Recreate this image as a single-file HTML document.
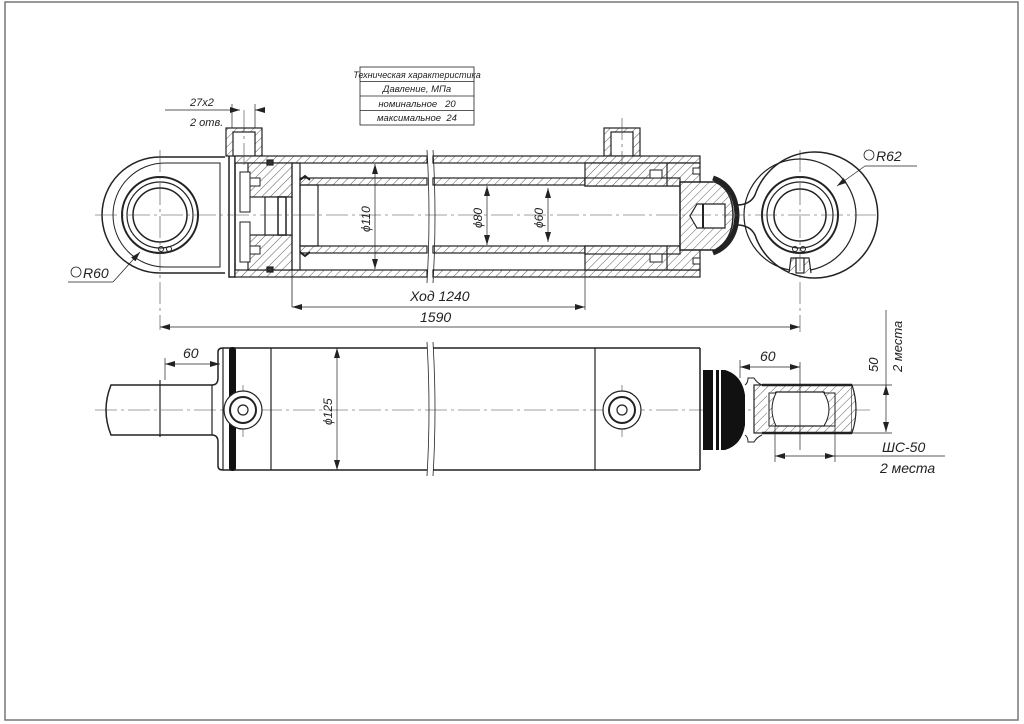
<!DOCTYPE html>
<html><head><meta charset="utf-8"><style>
html,body{margin:0;padding:0;background:#fff}
svg{display:block}
text{font-family:"Liberation Sans","DejaVu Sans",sans-serif;font-style:italic;fill:#222}
</style></head><body>
<svg width="1024" height="724" viewBox="0 0 1024 724" xmlns="http://www.w3.org/2000/svg">
<defs>
<pattern id="h" width="6" height="6" patternUnits="userSpaceOnUse" patternTransform="rotate(45)">
<rect width="6" height="6" fill="#fff"/><line x1="0" y1="0" x2="0" y2="6" stroke="#333" stroke-width="0.8"/>
</pattern>
<marker id="a" viewBox="0 0 10 6" refX="10" refY="3" markerWidth="10" markerHeight="6" orient="auto-start-reverse" markerUnits="userSpaceOnUse"><path d="M0,0L10,3L0,6z" fill="#222"/></marker>
</defs>
<rect x="5" y="2" width="1013" height="718" fill="none" stroke="#777" stroke-width="1.5"/>

<g stroke="#222" fill="none" stroke-width="1.2">
<!-- table -->
<rect x="360" y="67" width="114" height="58" stroke-width="0.8"/>
<line x1="360" y1="81.5" x2="474" y2="81.5" stroke-width="0.8"/>
<line x1="360" y1="96" x2="474" y2="96" stroke-width="0.8"/>
<line x1="360" y1="110.5" x2="474" y2="110.5" stroke-width="0.8"/>

<!-- ===== TOP VIEW ===== -->
<!-- left eye -->
<path d="M225,157 L160,157 A58,58 0 0 0 160,273 L225,273" stroke-width="1.5"/>
<path d="M220,163 L165,163 A52,52 0 0 0 165,267 L220,267 Z" stroke-width="1"/>
<circle cx="160" cy="215" r="38" stroke-width="2"/>
<circle cx="160" cy="215" r="33" stroke-width="1.2"/>
<circle cx="160" cy="215" r="27" stroke-width="1.5"/>
<circle cx="161" cy="249" r="2.5" stroke-width="1"/><circle cx="169" cy="249" r="2.5" stroke-width="1"/>
<rect x="229" y="155" width="6" height="122" fill="#fff" stroke-width="1.5"/>
<!-- ports -->
<rect x="226" y="128" width="36" height="28" fill="url(#h)"/>
<rect x="233" y="132" width="22" height="24" fill="#fff"/>
<rect x="604" y="128" width="36" height="28" fill="url(#h)"/>
<rect x="611" y="132" width="22" height="24" fill="#fff"/>
<!-- tube -->
<rect x="235" y="156" width="192" height="7" fill="url(#h)"/>
<rect x="433" y="156" width="267" height="7" fill="url(#h)"/>
<rect x="235" y="270" width="192" height="7" fill="url(#h)"/>
<rect x="433" y="270" width="267" height="7" fill="url(#h)"/>
<line x1="235" y1="163" x2="235" y2="270"/>
<!-- bottom gland/piston -->
<rect x="248" y="163" width="44" height="34" fill="url(#h)"/>
<rect x="248" y="235" width="44" height="35" fill="url(#h)"/>
<rect x="240" y="172" width="10" height="40" fill="#fff" stroke-width="1"/>
<rect x="240" y="222" width="10" height="40" fill="#fff" stroke-width="1"/>
<rect x="250" y="178" width="10" height="8" fill="#fff" stroke-width="1"/>
<rect x="250" y="246" width="10" height="8" fill="#fff" stroke-width="1"/>
<rect x="265" y="197" width="27" height="38" fill="#fff"/>
<rect x="278" y="197" width="8" height="38" fill="#fff" stroke-width="1.5"/>
<rect x="267" y="160" width="6" height="5" fill="#333"/><rect x="267" y="267" width="6" height="5" fill="#333"/>
<!-- rod -->
<line x1="292" y1="163" x2="292" y2="307" stroke-width="0.8"/>
<rect x="292" y="163" width="8" height="107"/>
<rect x="300" y="178" width="127" height="7" fill="url(#h)"/>
<rect x="433" y="178" width="152" height="7" fill="url(#h)"/>
<rect x="300" y="246" width="127" height="7" fill="url(#h)"/>
<rect x="433" y="246" width="152" height="7" fill="url(#h)"/>
<rect x="300" y="185" width="18" height="61"/>
<path d="M300,180 l5,-4 5,4 M300,252 l5,4 5,-4" stroke-width="2"/>
<!-- right gland -->
<path d="M585,163 L700,163 L700,186 L585,186 Z" fill="url(#h)"/>
<path d="M585,246 L700,246 L700,270 L585,270 Z" fill="url(#h)"/>
<rect x="585" y="178" width="95" height="8" fill="url(#h)"/>
<rect x="585" y="246" width="95" height="8" fill="url(#h)"/>
<rect x="650" y="170" width="12" height="8" fill="#fff" stroke-width="1"/>
<rect x="650" y="254" width="12" height="8" fill="#fff" stroke-width="1"/>
<line x1="667" y1="163" x2="667" y2="186"/><line x1="667" y1="246" x2="667" y2="270"/>
<rect x="693" y="168" width="7" height="6" fill="#fff" stroke-width="1"/>
<rect x="693" y="258" width="7" height="6" fill="#fff" stroke-width="1"/>
<!-- rod head -->
<path d="M680,182 L715,182 Q733,190 733,215 Q733,240 715,250 L680,250 Z" fill="url(#h)" stroke-width="1.5"/>
<path d="M713,178 Q736,186 737,215 Q736,244 713,253" stroke-width="5"/>
<path d="M697,204 L725,204 L725,228 L697,228 L690,216 Z" fill="#fff"/>
<line x1="703" y1="204" x2="703" y2="228" stroke-width="2"/>
<!-- right eye -->
<path d="M737,205 Q750,205 755,195 A63,63 0 1 1 755,235 Q750,225 737,225" stroke-width="1.5"/>
<circle cx="800" cy="215" r="56" stroke-width="1.2"/>
<circle cx="800" cy="215" r="38" stroke-width="2"/>
<circle cx="800" cy="215" r="33" stroke-width="1.2"/>
<circle cx="800" cy="215" r="26" stroke-width="1.5"/>
<circle cx="795" cy="249" r="2.5" stroke-width="1"/><circle cx="803" cy="249" r="2.5" stroke-width="1"/>
<path d="M789,273 L791,258 L809,258 L811,273" fill="url(#h)"/>
<rect x="796" y="258" width="8" height="15" fill="#fff"/>
<!-- break lines -->
<path d="M427,150 Q431,215 427,283 M433,150 Q437,215 433,283" stroke-width="0.8"/>

<!-- centerlines -->
<g stroke="#444" stroke-width="0.6" stroke-dasharray="22,4,3,4">
<line x1="95" y1="215" x2="880" y2="215"/>
<line x1="160" y1="150" x2="160" y2="330"/>
<line x1="800" y1="150" x2="800" y2="332"/>
<line x1="244" y1="110" x2="244" y2="165"/>
<line x1="622" y1="118" x2="622" y2="165"/>
<line x1="95" y1="410" x2="870" y2="410"/>
<line x1="243" y1="385" x2="243" y2="437"/>
<line x1="622" y1="385" x2="622" y2="437"/>
</g>

<!-- dimensions top -->
<g stroke-width="0.7">
<line x1="585" y1="270" x2="585" y2="310"/>
<line x1="292" y1="307" x2="585" y2="307" marker-start="url(#a)" marker-end="url(#a)"/>
<line x1="160" y1="327" x2="800" y2="327" marker-start="url(#a)" marker-end="url(#a)"/>
<line x1="375" y1="164" x2="375" y2="269" marker-start="url(#a)" marker-end="url(#a)"/>
<line x1="487" y1="186" x2="487" y2="245" marker-start="url(#a)" marker-end="url(#a)"/>
<line x1="548" y1="188" x2="548" y2="242" marker-start="url(#a)" marker-end="url(#a)"/>
<line x1="165" y1="110" x2="232" y2="110"/>
<line x1="232" y1="110" x2="240" y2="110" marker-end="url(#a)"/>
<line x1="264" y1="110" x2="255" y2="110" marker-end="url(#a)"/>
<line x1="232" y1="104" x2="232" y2="128"/><line x1="255" y1="104" x2="255" y2="128"/>
<line x1="68" y1="282" x2="113" y2="282"/>
<line x1="113" y1="282" x2="140" y2="252" marker-end="url(#a)"/>
<line x1="917" y1="166" x2="865" y2="166"/>
<line x1="865" y1="166" x2="837" y2="186" marker-end="url(#a)"/>
</g>
<circle cx="76" cy="272" r="5" stroke-width="0.8"/>
<circle cx="869" cy="155" r="5" stroke-width="0.8"/>

<!-- ===== BOTTOM VIEW ===== -->
<path d="M160,385 L111,385 Q101,410 111,435 L160,435" stroke-width="1.5"/>
<path d="M160,385 L212,385 Q218,385 218,378 L218,352 Q218,348 223,348 M160,435 L212,435 Q218,435 218,442 L218,466 Q218,470 223,470" stroke-width="1.5"/>
<line x1="160" y1="380" x2="160" y2="437" stroke-width="1.2"/>
<line x1="212" y1="385" x2="212" y2="435" stroke-width="1.2"/>
<line x1="223" y1="348" x2="223" y2="470" stroke-width="1.2"/>
<path d="M223,348 L427,348 M223,470 L427,470 M433,348 L700,348 M433,470 L700,470" stroke-width="1.5"/>
<rect x="229" y="347" width="7" height="124" rx="3" fill="#111" stroke="none"/>
<line x1="271" y1="348" x2="271" y2="470" stroke-width="1.2"/>
<line x1="595" y1="348" x2="595" y2="470" stroke-width="1.2"/>
<line x1="700" y1="348" x2="700" y2="470" stroke-width="1.5"/>
<path d="M427,342 Q431,410 427,476 M433,342 Q437,410 433,476" stroke-width="0.8"/>
<circle cx="243" cy="410" r="19" fill="#fff" stroke-width="1.2"/>
<circle cx="243" cy="410" r="13" stroke-width="2"/>
<circle cx="243" cy="410" r="5" stroke-width="1.2"/>
<circle cx="622" cy="410" r="19" fill="#fff" stroke-width="1.2"/>
<circle cx="622" cy="410" r="13" stroke-width="2"/>
<circle cx="622" cy="410" r="5" stroke-width="1.2"/>
<!-- rod end bottom -->
<path d="M703,370 L725,370 Q742,375 745,395 L745,425 Q742,445 725,450 L703,450 Z" fill="#111" stroke="none"/>
<rect x="713" y="370" width="3" height="80" fill="#fff" stroke="none"/>
<rect x="719" y="370" width="2" height="80" fill="#fff" stroke="none"/>
<path d="M745,385 Q748,383 748,378 L754,378 Q757,383 762,385 M745,435 Q748,437 748,442 L754,442 Q757,437 762,435" stroke-width="1"/>
<rect x="754" y="385" width="98" height="48" fill="url(#h)"/>
<path d="M852,385 Q860,409 852,433" fill="url(#h)" stroke-width="1.2"/>
<line x1="762" y1="385" x2="852" y2="385" stroke-width="2.5"/>
<line x1="762" y1="433" x2="852" y2="433" stroke-width="2.5"/>
<rect x="767" y="392" width="68" height="34" fill="#fff" stroke-width="0"/>
<path d="M776,392 L824,392 Q836,409 824,426 L776,426 Q764,409 776,392 Z" fill="#fff" stroke-width="1.2"/>
<path d="M769,393 L776,393 Q768,409 776,426 L769,426 Z M835,393 L824,393 Q834,409 824,426 L835,426 Z" fill="url(#h)" stroke-width="1"/>
<!-- bottom dims -->
<g stroke-width="0.7">
<line x1="165" y1="380" x2="165" y2="358"/>
<line x1="165" y1="364" x2="220" y2="364" marker-start="url(#a)" marker-end="url(#a)"/>
<line x1="740" y1="378" x2="740" y2="360"/>
<line x1="800" y1="450" x2="800" y2="362"/>
<line x1="740" y1="367" x2="800" y2="367" marker-start="url(#a)" marker-end="url(#a)"/>
<line x1="337" y1="348" x2="337" y2="470" marker-start="url(#a)" marker-end="url(#a)"/>
<line x1="852" y1="385" x2="892" y2="385"/>
<line x1="852" y1="433" x2="892" y2="433"/>
<line x1="886" y1="310" x2="886" y2="385"/>
<line x1="886" y1="385" x2="886" y2="432" marker-start="url(#a)" marker-end="url(#a)"/>
<line x1="775" y1="426" x2="775" y2="462"/>
<line x1="835" y1="426" x2="835" y2="462"/>
<line x1="775" y1="456" x2="835" y2="456" marker-start="url(#a)" marker-end="url(#a)"/>
<line x1="835" y1="456" x2="945" y2="456"/>
</g>
</g>

<!-- text -->
<g font-size="9.5" text-anchor="middle">
<text x="417" y="78" font-size="9">Техническая характеристика</text>
<text x="417" y="92">Давление, МПа</text>
<text x="417" y="107">номинальное&#160;&#160;&#160;20</text>
<text x="417" y="121">максимальное&#160;&#160;24</text>
</g>
<text x="190" y="106" font-size="11">27x2</text>
<text x="190" y="126" font-size="11">2 отв.</text>
<text x="83" y="278" font-size="14">R60</text>
<text x="876" y="161" font-size="14">R62</text>
<text x="410" y="301" font-size="14">Ход 1240</text>
<text x="420" y="322" font-size="14">1590</text>
<text x="370" y="232" font-size="12" transform="rotate(-90 370 232)">ϕ110</text>
<text x="482" y="228" font-size="12" transform="rotate(-90 482 228)">ϕ80</text>
<text x="543" y="228" font-size="12" transform="rotate(-90 543 228)">ϕ60</text>
<text x="332" y="425" font-size="12" transform="rotate(-90 332 425)">ϕ125</text>
<text x="183" y="358" font-size="14">60</text>
<text x="760" y="361" font-size="14">60</text>
<text x="878" y="372" font-size="13" transform="rotate(-90 878 372)">50</text>
<text x="902" y="372" font-size="13" transform="rotate(-90 902 372)">2 места</text>
<text x="882" y="452" font-size="14">ШС-50</text>
<text x="880" y="473" font-size="14">2 места</text>
</svg>
</body></html>
